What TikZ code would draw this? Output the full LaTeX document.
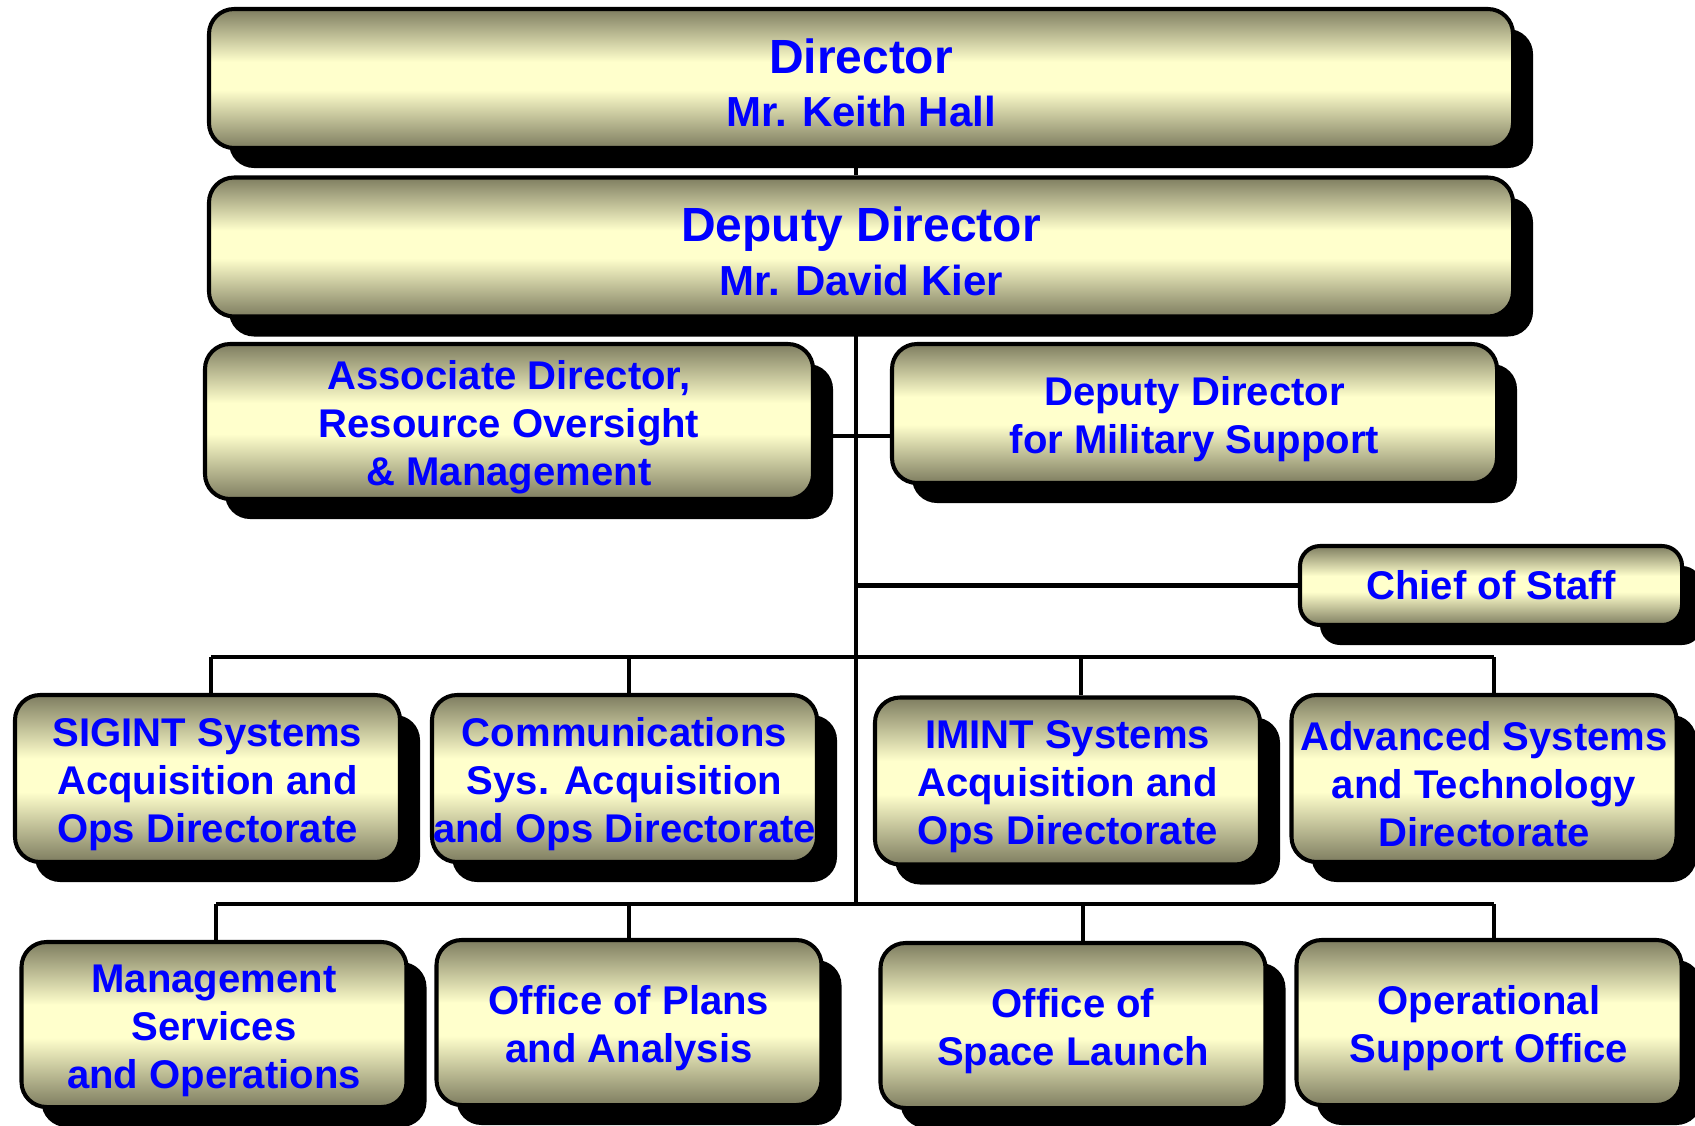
\documentclass[tikz,border=0pt]{standalone}
\usepackage{fontspec}
\setmainfont{Liberation Sans}
\usetikzlibrary{shadows}
\definecolor{boxdark}{RGB}{126,125,96}
\definecolor{boxlight}{RGB}{255,255,204}
\definecolor{orgblue}{RGB}{0,0,255}
\pgfdeclareverticalshading{boxfill}{100bp}{color(0bp)=(boxdark); color(25bp)=(boxdark);
  color(46bp)=(boxlight); color(56bp)=(boxlight); color(75bp)=(boxdark); color(100bp)=(boxdark)}
\tikzset{
  unit/.style={draw=black, line width=2.3pt, rounded corners=5mm, shading=boxfill,
    drop shadow={opacity=1, fill=black, shadow xshift=4mm, shadow yshift=-4mm},
    text=orgblue, align=center, inner sep=0pt,
    font=\bfseries\fontsize{22.8}{27.3}\selectfont},
  head/.style={unit, minimum width=260.8mm, minimum height=27.8mm,
    font=\bfseries\fontsize{27.3}{30.5}\selectfont},
  office/.style={unit, minimum width=77mm, minimum height=33.4mm},
  link/.style={line width=2.8pt}
}
\newcommand{\namefont}{\fontsize{23.9}{30.5}\selectfont}
\newcommand{\boxstrut}{\rule{0pt}{22.8pt}}
\newcommand{\headstrut}{\rule{0pt}{24.5pt}}
\begin{document}
\begin{tikzpicture}[x=0.2mm, y=-0.2mm]
  \useasboundingbox (0,0) rectangle (1695,1125);
  % top of the chart
  \node[head] (dir) at (861,78.5) {\headstrut Director\\{\namefont Mr. Keith Hall}};
  \node[head] (dep) at (861,247) {\headstrut Deputy Director\\{\namefont Mr. David Kier}};
  \node[unit, minimum width=121.6mm, minimum height=31mm] (assoc) at (509,421.5)
    {\boxstrut Associate Director,\\Resource Oversight\\\& Management};
  \node[unit, minimum width=121mm, minimum height=27.8mm] (ddms) at (1194.5,413.5)
    {\boxstrut Deputy Director\\for Military Support};
  \node[unit, minimum width=76.4mm, minimum height=15.8mm, rounded corners=4mm] (cos)
    at (1491,585.5) {Chief of Staff};
  % directorates
  \node[office] (sig) at (207.5,778.5) {\boxstrut SIGINT Systems\\Acquisition and\\Ops Directorate};
  \node[office] (com) at (624.5,778.5) {\boxstrut Communications\\Sys. Acquisition\\and Ops Directorate};
  \node[office] (imint) at (1067.5,781) {\boxstrut IMINT Systems\\Acquisition and\\Ops Directorate};
  \node[office] (adv) at (1484,778.5) {\boxstrut Advanced Systems\\and Technology\\Directorate};
  % offices
  \node[office, minimum height=33mm] (mgmt) at (214,1024.5) {\boxstrut Management\\Services\\and Operations};
  \node[office, minimum height=33mm] (plans) at (629,1022.5) {\boxstrut Office of Plans\\and Analysis};
  \node[office, minimum height=33mm] (space) at (1073,1025.5) {\boxstrut Office of\\Space Launch};
  \node[office, minimum height=33mm] (ops) at (1489,1022.5) {\boxstrut Operational\\Support Office};
  \coordinate (trunk) at (856,0);
  \coordinate (mil) at (856,436);
  \coordinate (bus1) at (856,657);
  \coordinate (bus2) at (856,904);
  \begin{scope}[link]
    \draw (dir.south -| trunk) -- (dep.north -| trunk);
    \draw (dep.south -| trunk) -- (bus2);
    \draw (assoc.east |- mil) -- (ddms.west |- mil);
    \draw (trunk |- cos) -- (cos.west);
    \draw (211,0 |- bus1) -- (1494,0 |- bus1);
    \draw (216,0 |- bus2) -- (1494,0 |- bus2);
    \foreach \n/\x in {sig/211,com/629,imint/1081,adv/1494}
      \draw (\x,0 |- bus1) -- (\n.north -| \x,0);
    \foreach \n/\x in {mgmt/216,plans/629,space/1083,ops/1494}
      \draw (\x,0 |- bus2) -- (\n.north -| \x,0);
  \end{scope}
\end{tikzpicture}
\end{document}
